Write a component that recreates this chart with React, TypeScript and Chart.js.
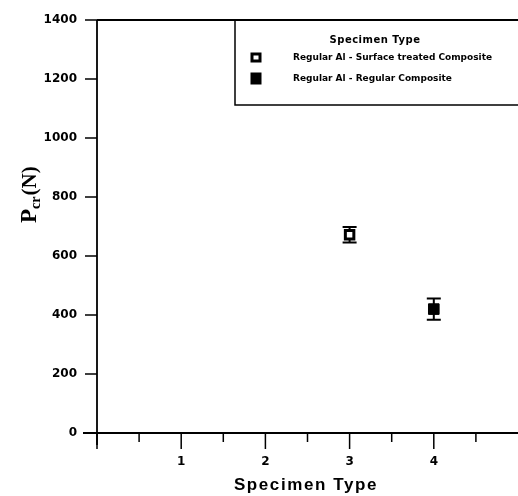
import React, { useEffect, useRef } from "react";
import { Chart, registerables } from "chart.js";

Chart.register(...registerables);

const seriesLabels = [
  "Regular Al - Surface treated Composite",
  "Regular Al - Regular Composite",
];
const specimenType = [3, 4];
const pcrMean = [672, 420];
const pcrError = [26, 36];
const xTickLabels = ["1", "2", "3", "4"];
const yMin = 0;
const yMax = 1400;
const yStep = 200;
const xMin = 0;
const xMax = 5;
const legendTitle = "Specimen Type";
const xTitle = "Specimen Type";

const axisPlugin = {
  id: "axisDecor",
  beforeDatasetsDraw(chart: any) {
    const ctx = chart.ctx;
    const xs = chart.scales.x;
    const ys = chart.scales.y;
    ctx.save();
    ctx.strokeStyle = "#000";
    ctx.lineWidth = 2;
    chart.data.datasets.forEach((ds: any) => {
      ds.data.forEach((p: any) => {
        const px = xs.getPixelForValue(p.x);
        const pt = ys.getPixelForValue(p.y + p.err);
        const pb = ys.getPixelForValue(p.y - p.err);
        ctx.beginPath();
        ctx.moveTo(px, pt);
        ctx.lineTo(px, pb);
        ctx.moveTo(px - 7, pt);
        ctx.lineTo(px + 7, pt);
        ctx.moveTo(px - 7, pb);
        ctx.lineTo(px + 7, pb);
        ctx.stroke();
      });
    });
    ctx.restore();
  },
  afterDraw(chart: any) {
    const ctx = chart.ctx;
    const { left, right, top, bottom } = chart.chartArea;
    const xs = chart.scales.x;
    const ys = chart.scales.y;
    ctx.save();
    ctx.strokeStyle = "#000";
    ctx.lineWidth = 1.8;
    ctx.lineCap = "butt";
    // axes & frame
    ctx.beginPath();
    ctx.moveTo(left, top);
    ctx.lineTo(left, bottom + 12);
    ctx.moveTo(left - 14, bottom);
    ctx.lineTo(right, bottom);
    ctx.moveTo(left, top);
    ctx.lineTo(right, top);
    ctx.stroke();
    // y ticks
    ctx.lineWidth = 1.5;
    ctx.beginPath();
    for (let v = yMin; v <= yMax; v += yStep) {
      const py = ys.getPixelForValue(v);
      ctx.moveTo(left - 12, py);
      ctx.lineTo(left, py);
    }
    // x ticks
    for (let v = xMin; v < xMax; v += 0.5) {
      const px = xs.getPixelForValue(v);
      const major = Math.abs(v - Math.round(v)) < 1e-6;
      ctx.moveTo(px, bottom);
      ctx.lineTo(px, bottom + (major ? 16 : 9));
    }
    ctx.stroke();

    // legend box
    const lx = 235;
    const lb = 105;
    ctx.lineWidth = 1.5;
    ctx.beginPath();
    ctx.moveTo(lx, top);
    ctx.lineTo(lx, lb);
    ctx.lineTo(right, lb);
    ctx.stroke();
    ctx.fillStyle = "#000";
    ctx.textBaseline = "middle";
    ctx.textAlign = "center";
    ctx.font = "bold 10px 'DejaVu Sans'";
    (ctx as any).letterSpacing = "0.5px";
    ctx.fillText(legendTitle, 375, 40);
    (ctx as any).letterSpacing = "0px";
    ctx.textAlign = "left";
    ctx.font = "bold 9px 'DejaVu Sans'";
    const rowsY = [57.5, 78.5];
    chart.data.datasets.forEach((ds: any, i: number) => {
      const y = rowsY[i];
      const cx = 256;
      if (ds.pointBackgroundColor === "#ffffff") {
        ctx.fillStyle = "#000";
        ctx.fillRect(cx - 5.5, y - 5, 11, 10);
        ctx.fillStyle = "#fff";
        ctx.fillRect(cx - 2.5, y - 2, 5, 4);
      } else {
        ctx.fillStyle = "#000";
        ctx.fillRect(cx - 5.5, y - 6, 11, 12);
      }
      ctx.fillStyle = "#000";
      ctx.fillText(ds.label, 293, y);
    });

    // x title
    ctx.textAlign = "center";
    ctx.textBaseline = "middle";
    ctx.font = "bold 17px 'Liberation Sans'";
    (ctx as any).letterSpacing = "1.6px";
    ctx.fillText(xTitle, 306, 485);
    (ctx as any).letterSpacing = "0px";

    // y title: P_cr (N)
    ctx.translate(36, 223);
    ctx.rotate(-Math.PI / 2);
    ctx.textAlign = "left";
    ctx.textBaseline = "alphabetic";
    ctx.font = "bold 23px 'Liberation Serif'";
    ctx.fillText("P", 0, 0);
    let w = ctx.measureText("P").width;
    ctx.font = "bold 14px 'Liberation Serif'";
    ctx.fillText("cr", w, 4);
    w += ctx.measureText("cr").width + 1;
    ctx.font = "bold 21px 'Liberation Serif'";
    ctx.fillText("(N)", w, 0);
    ctx.restore();
  },
};

export default function App() {
  const ref = useRef<HTMLCanvasElement>(null);
  useEffect(() => {
    if (!ref.current) return;
    const chart = new Chart(ref.current, {
      type: "scatter",
      data: {
        datasets: [
          {
            label: seriesLabels[0],
            data: [{ x: specimenType[0], y: pcrMean[0], err: pcrError[0] } as any],
            pointStyle: "rect",
            pointRadius: 6,
            pointBorderWidth: 3,
            pointBackgroundColor: "#ffffff",
            pointBorderColor: "#000000",
          },
          {
            label: seriesLabels[1],
            data: [{ x: specimenType[1], y: pcrMean[1], err: pcrError[1] } as any],
            pointStyle: "rect",
            pointRadius: 7.5,
            pointBorderWidth: 1,
            pointBackgroundColor: "#000000",
            pointBorderColor: "#000000",
          },
        ],
      },
      options: {
        animation: false,
        responsive: false,
        events: [],
        layout: { autoPadding: false, padding: { top: 20, left: 0, right: 0, bottom: 0 } },
        plugins: { legend: { display: false }, tooltip: { enabled: false } },
        scales: {
          x: {
            type: "linear",
            min: xMin,
            max: xMax,
            grid: { display: false, drawTicks: false },
            border: { display: false },
            ticks: {
              stepSize: 1,
              autoSkip: false,
              maxRotation: 0,
              padding: 22,
              color: "#000",
              font: { family: "'DejaVu Sans'", weight: "bold", size: 12 },
              callback: (v: any) => {
                const idx = xTickLabels.indexOf(String(v));
                return idx >= 0 ? xTickLabels[idx] : "";
              },
            },
            afterFit: (s: any) => {
              s.height = 63;
              s.paddingLeft = 0;
              s.paddingRight = 0;
            },
          },
          y: {
            min: yMin,
            max: yMax,
            grid: { display: false, drawTicks: false },
            border: { display: false },
            ticks: {
              stepSize: yStep,
              padding: 20,
              color: "#000",
              font: { family: "'DejaVu Sans'", weight: "bold", size: 12 },
              callback: (v: any) => String(v),
            },
            afterFit: (s: any) => {
              s.width = 97;
              s.paddingTop = 0;
              s.paddingBottom = 0;
            },
          },
        },
      },
      plugins: [axisPlugin],
    });
    return () => chart.destroy();
  }, []);
  return (
    <div style={{ position: "absolute", left: 0, top: 0, width: 518, height: 496, background: "#fff" }}>
      <canvas ref={ref} width={518} height={496} />
    </div>
  );
}
